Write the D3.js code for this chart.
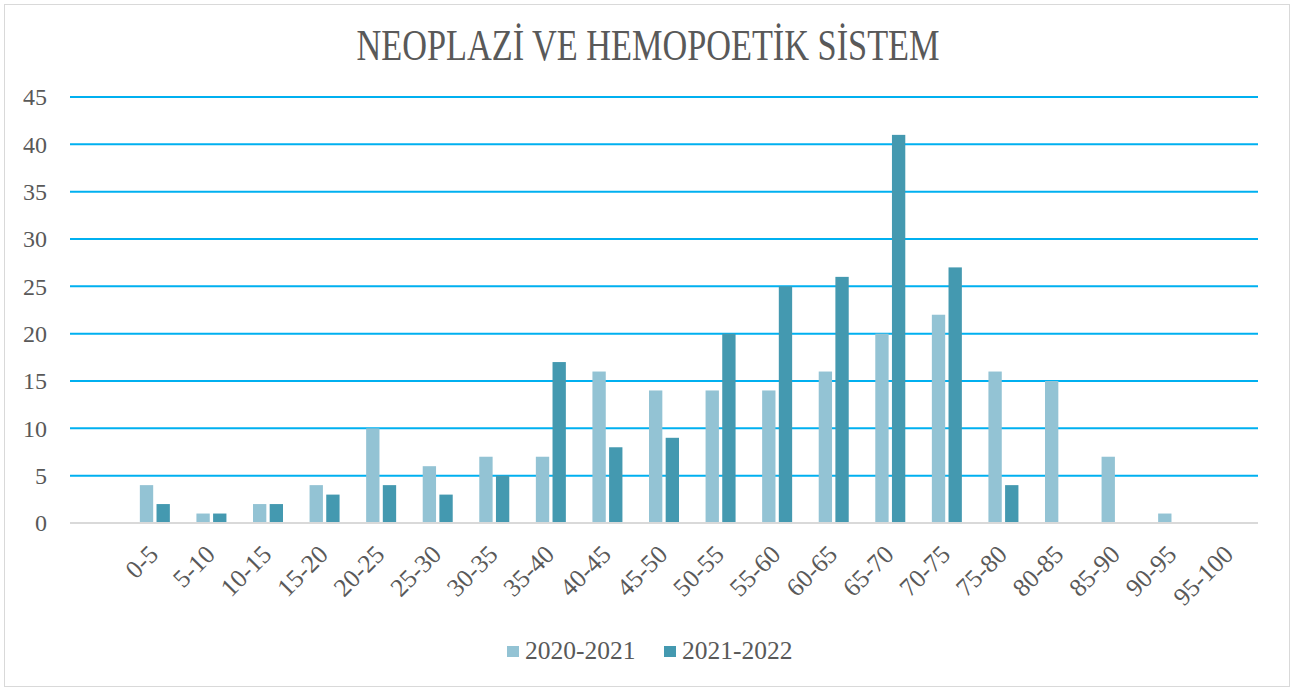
<!DOCTYPE html>
<html>
<head>
<meta charset="utf-8">
<script src="https://d3js.org/d3.v7.min.js" type="text/javascript"></script>
<style>
  body {
    margin: 0;
    background: #fff;
  }
  svg text {
    font-family: 'Liberation Serif', 'DejaVu Serif', serif;
    fill: #595959;
  }
  .grid line {
    stroke: #00B0F0;
    stroke-width: 2;
  }
</style>
</head>
<body>
<svg id="chart" width="1294" height="691"></svg>
<script type="text/javascript">
  // chart data (first category is blank, as in the original sheet)
  const categories = ["", "0-5", "5-10", "10-15", "15-20", "20-25", "25-30", "30-35", "35-40", "40-45",
    "45-50", "50-55", "55-60", "60-65", "65-70", "70-75", "75-80", "80-85", "85-90", "90-95", "95-100"];
  const series = ["2020-2021", "2021-2022"];
  const values2020 = [0, 4, 1, 2, 4, 10, 6, 7, 7, 16, 14, 14, 14, 16, 20, 22, 16, 15, 7, 1, 0];
  const values2021 = [0, 2, 1, 2, 3, 4, 3, 5, 17, 8, 9, 20, 25, 26, 41, 27, 4, 0, 0, 0, 0];
  const yTicks = [0, 5, 10, 15, 20, 25, 30, 35, 40, 45];
  const colors = ["#93C3D4", "#4499B0"];

  const width = 1294;
  const height = 691;
  const margin = { top: 97, right: 36, bottom: 168, left: 70 };

  const data = categories.map((c, i) => ({
    category: c,
    vals: [values2020[i], values2021[i]]
  }));

  const svg = d3.select("#chart");

  // background + outer border
  svg.append("rect")
    .attr("x", 0).attr("y", 0)
    .attr("width", width).attr("height", height)
    .attr("fill", "#fff");
  svg.append("rect")
    .attr("x", 4.5).attr("y", 4.5)
    .attr("width", width - 9).attr("height", height - 9)
    .attr("fill", "none")
    .attr("stroke", "#D9D9D9");

  const x0 = d3.scaleBand()
    .domain(categories)
    .range([margin.left, width - margin.right])
    .padding(0);

  const x1 = d3.scaleBand()
    .domain(series)
    .range([0, 30])
    .paddingInner(0.2);

  const y = d3.scaleLinear()
    .domain([0, 45])
    .range([height - margin.bottom, margin.top]);

  // title
  svg.append("text")
    .attr("x", 648)
    .attr("y", 60)
    .attr("text-anchor", "middle")
    .attr("textLength", 583)
    .attr("lengthAdjust", "spacingAndGlyphs")
    .style("font-size", "44px")
    .text("NEOPLAZİ VE HEMOPOETİK SİSTEM");

  // gridlines
  svg.append("g")
    .attr("class", "grid")
    .selectAll("line")
    .data(yTicks.filter(t => t > 0))
    .enter().append("line")
    .attr("x1", margin.left)
    .attr("x2", width - margin.right)
    .attr("y1", d => y(d))
    .attr("y2", d => y(d));

  // y axis labels
  const yAxis = svg.append("g")
    .attr("transform", `translate(${margin.left},0)`)
    .call(d3.axisLeft(y).tickValues(yTicks).tickSize(0).tickPadding(23));
  yAxis.select(".domain").remove();
  yAxis.selectAll("text")
    .style("font-size", "24px")
    .style("font-family", "'Liberation Serif', serif")
    .attr("fill", "#595959");

  // bars
  const groups = svg.append("g")
    .selectAll("g")
    .data(data)
    .enter().append("g")
    .attr("transform", d => `translate(${x0(d.category) + x0.bandwidth() / 2 - 15},0)`);

  groups.selectAll("rect")
    .data(d => d.vals.map((v, i) => ({ key: series[i], value: v, i })))
    .enter().append("rect")
    .filter(d => d.value > 0)
    .attr("x", d => x1(d.key))
    .attr("y", d => y(d.value))
    .attr("width", x1.bandwidth())
    .attr("height", d => y(0) - y(d.value))
    .attr("fill", d => colors[d.i]);

  // x axis baseline
  svg.append("line")
    .attr("x1", margin.left)
    .attr("x2", width - margin.right)
    .attr("y1", y(0))
    .attr("y2", y(0))
    .attr("stroke", "#D9D9D9")
    .attr("stroke-width", 2);

  // x labels, rotated
  svg.append("g")
    .selectAll("text")
    .data(categories.filter(c => c !== ""))
    .enter().append("text")
    .attr("transform", d => `translate(${x0(d) + x0.bandwidth() / 2 + 5},${y(0) + 33}) rotate(-45)`)
    .attr("text-anchor", "end")
    .style("font-size", "25.5px")
    .text(d => d);

  // legend
  const legend = svg.append("g")
    .attr("transform", "translate(507,646)");
  const legendX = [0, 157];
  series.forEach((s, i) => {
    legend.append("rect")
      .attr("x", legendX[i])
      .attr("y", 0)
      .attr("width", 12)
      .attr("height", 11)
      .attr("fill", colors[i]);
    legend.append("text")
      .attr("x", legendX[i] + 18)
      .attr("y", 13)
      .style("font-size", "25.5px")
      .text(s);
  });
</script>
</body>
</html>
